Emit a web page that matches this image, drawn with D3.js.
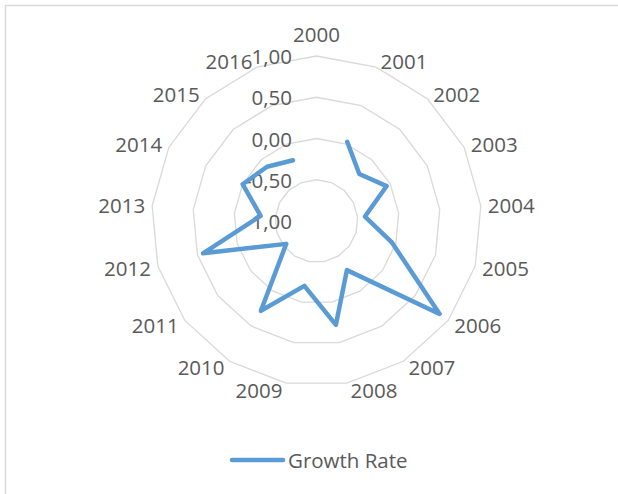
<!DOCTYPE html>
<html>
<head>
<meta charset="utf-8">
<script src="https://cdn.jsdelivr.net/npm/d3@7"></script>
<style>
  body { margin: 0; background: #fff; }
  text { font-family: "Open Sans", "Noto Sans", sans-serif; fill: #595959; }
</style>
</head>
<body>
<div id="chart"></div>
<script>
// categories and values (2000 has no value, so the line is left open)
const years = ["2000", "2001", "2002", "2003", "2004", "2005", "2006", "2007", "2008",
               "2009", "2010", "2011", "2012", "2013", "2014", "2015", "2016"];
const growthRate = [null, 0.03, -0.23, -0.05, -0.41, -0.05, 0.87, -0.30, 0.28,
                    -0.20, 0.28, -0.54, 0.43, -0.32, 0.00, -0.11, -0.21];
const ringValues = [-0.5, 0, 0.5, 1];
const tickValues = [1, 0.5, 0, -0.5, -1];
const seriesName = "Growth Rate";

const width = 618, height = 494;
const cx = 316.5, cy = 221, outer = 165;
const fontSize = "20.5px";

const svg = d3.select("#chart").append("svg")
    .attr("width", width)
    .attr("height", height);

// chart area frame (runs past the right/bottom edge in the original)
svg.append("rect")
    .attr("x", 5.5).attr("y", 5.5)
    .attr("width", width + 20).attr("height", height + 20)
    .attr("fill", "none")
    .attr("stroke", "#d9d9d9")
    .attr("stroke-width", 1.5);

const r = d3.scaleLinear().domain([-1, 1]).range([0, outer]);
const angle = d3.scalePoint().domain(years).range([0, 2 * Math.PI * (years.length - 1) / years.length]);

const pt = (year, v) => {
    const a = angle(year);
    return [cx + r(v) * Math.sin(a), cy - r(v) * Math.cos(a)];
};

const g = svg.append("g");

// grid rings
g.append("g")
    .selectAll("polygon")
    .data(ringValues)
    .join("polygon")
    .attr("points", v => years.map(y => pt(y, v).join(",")).join(" "))
    .attr("fill", "none")
    .attr("stroke", "#d9d9d9")
    .attr("stroke-width", 1.3);

// value labels along the first axis
g.append("g")
    .selectAll("text")
    .data(tickValues)
    .join("text")
    .attr("x", cx - 24.5)
    .attr("y", v => cy - r(v))
    .attr("text-anchor", "end")
    .attr("dominant-baseline", "central")
    .style("font-size", fontSize)
    .text(v => d3.format(".2f")(v).replace(".", ",").replace("−", "-"));

// category labels
const labelR = 169;
g.append("g")
    .selectAll("text")
    .data(years)
    .join("text")
    .attr("x", d => {
        const s = Math.sin(angle(d));
        return cx + labelR * s + (Math.abs(s) < 0.05 ? 0 : (s > 0 ? 3 : -3));
    })
    .attr("y", d => {
        const s = Math.sin(angle(d)), c = Math.cos(angle(d));
        const hh = Math.abs(s) < 0.05 ? 18 : 3;
        return cy - labelR * c - c * hh;
    })
    .attr("text-anchor", d => {
        const s = Math.sin(angle(d));
        return Math.abs(s) < 0.05 ? "middle" : (s > 0 ? "start" : "end");
    })
    .attr("dominant-baseline", "central")
    .style("font-size", fontSize)
    .text(d => d);

// series line
const line = d3.line()
    .defined(d => d.v != null)
    .x(d => pt(d.year, d.v)[0])
    .y(d => pt(d.year, d.v)[1]);

g.append("path")
    .datum(years.map((year, i) => ({ year, v: growthRate[i] })))
    .attr("d", line)
    .attr("fill", "none")
    .attr("stroke", "#5b9bd5")
    .attr("stroke-width", 4.5)
    .attr("stroke-linejoin", "round")
    .attr("stroke-linecap", "round");

// legend
const legend = svg.append("g");
legend.append("line")
    .attr("x1", 232).attr("x2", 283)
    .attr("y1", 460).attr("y2", 460)
    .attr("stroke", "#5b9bd5")
    .attr("stroke-width", 4.5)
    .attr("stroke-linecap", "round");
legend.append("text")
    .attr("x", 288).attr("y", 460)
    .attr("dominant-baseline", "central")
    .style("font-size", fontSize)
    .text(seriesName);
</script>
</body>
</html>
